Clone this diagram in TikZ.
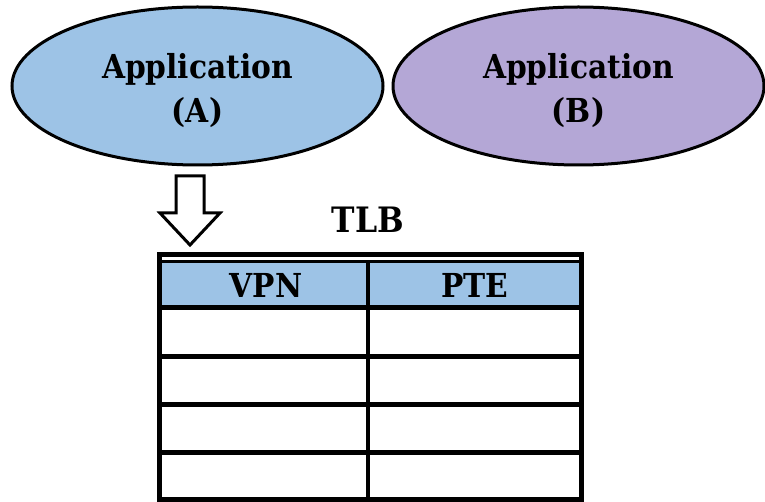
\documentclass[tikz,border=0pt]{standalone}
\usepackage{fontspec}
\setmainfont{DejaVu Serif Condensed}
\usetikzlibrary{shapes.geometric}
\definecolor{appblue}{HTML}{9DC3E6}
\definecolor{applilac}{HTML}{B4A7D6}
\begin{document}
\begin{tikzpicture}[x=1pt,y=-1pt,
  app/.style={ellipse, draw=black, line width=3pt, minimum width=371pt,
    minimum height=158pt, inner sep=0pt},
  lbl/.style={anchor=base, inner sep=0pt,
    font=\bfseries\fontsize{33}{40}\selectfont},
  rule/.style={line width=5pt},
  blockarrow/.style={draw=black, fill=white, line width=3pt, line join=miter}]
\useasboundingbox (0,0) rectangle (765,502);

% the two applications
\node[app, fill=appblue]   (appA) at (197.5,86) {};
\node[app, fill=applilac]  (appB) at (578.5,86) {};
\node[lbl] (appAname) at (197.5,79)  {Application};
\node[lbl] (appAtag)  at (197.5,123) {(A)};
\node[lbl] (appBname) at (578.5,79)  {Application};
\node[lbl] (appBtag)  at (578.5,123) {(B)};

% hollow arrow from application A down to the TLB
\draw[blockarrow] (176,176) -- (204,176) -- (204,213) -- (220,213)
  -- (190,245) -- (160,213) -- (176,213) -- cycle;

% TLB title
\node[lbl, font=\bfseries\fontsize{35}{42}\selectfont] (tlb) at (368,233) {TLB};

% table corners
\coordinate (tl) at (159,255);
\coordinate (br) at (581,499);

% header row
\fill[appblue] (159,262) rectangle (581,308);
\node[lbl] (vpn) at (266,298) {VPN};
\node[lbl] (pte) at (475,298) {PTE};

% frame and rules
\draw[rule] (tl) rectangle (br);
\draw[line width=3.5pt] (159,261.5) -- (581,261.5);
\foreach \y in {308,356,404.5,452.5}
  \draw[rule] (159,\y) -- (581,\y);
\draw[line width=4pt] (368,261.5) -- (368,499);
\end{tikzpicture}
\end{document}
